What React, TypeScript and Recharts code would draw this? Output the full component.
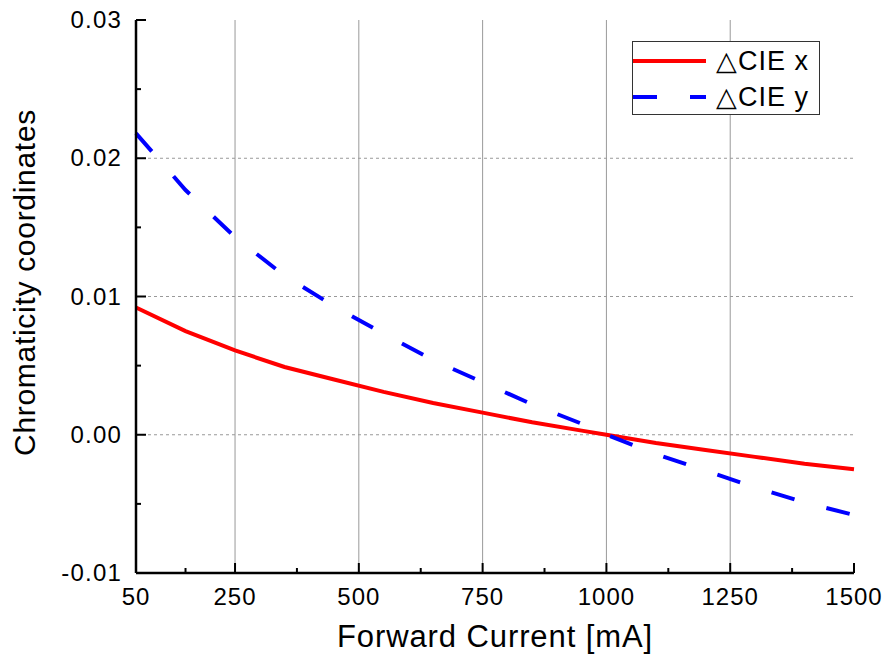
import React from "react";
import { CartesianGrid, Legend, Line, LineChart, XAxis, YAxis } from "recharts";

// forward current sweep (mA) and the chromaticity shift relative to 1000 mA
const currents = [50, 150, 250, 350, 450, 550, 650, 750, 850, 950, 1000, 1100, 1200, 1300, 1400, 1500];
const deltaCieX = [0.0092, 0.0075, 0.0061, 0.0049, 0.0040, 0.0031, 0.0023, 0.0016, 0.0009, 0.0003, 0, -0.0006, -0.0011, -0.0016, -0.0021, -0.0025];
const deltaCieY = [0.0218, 0.0177, 0.0143, 0.0115, 0.0093, 0.0073, 0.0054, 0.0038, 0.0022, 0.0008, 0, -0.0014, -0.0026, -0.0038, -0.0049, -0.0058];

const xDomain = [50, 1500];
const yDomain = [-0.01, 0.03];
const xMajor = [50, 250, 500, 750, 1000, 1250, 1500];
const xMinor = [150, 375, 625, 875, 1125, 1375];
const yMajor = [-0.01, 0, 0.01, 0.02, 0.03];
const yMinor = [-0.005, 0.005, 0.015, 0.025];
const xGrid = [250, 500, 750, 1000, 1250];
const yGrid = [0, 0.01, 0.02];

const FONT = '"Liberation Sans", Arial, Helvetica, sans-serif';

const data = currents.map((c, i) => ({ current: c, x: deltaCieX[i], y: deltaCieY[i] }));

const isMajor = (list: number[], v: number) => list.some((m) => Math.abs(m - v) < 1e-9);

function XTick(props: any) {
  const { x, y, payload } = props;
  const major = isMajor(xMajor, payload.value);
  return (
    <g>
      <line x1={x} x2={x} y1={y} y2={y - (major ? 10 : 5)} stroke="#000" strokeWidth={2} />
      {major && (
        <text x={x} y={y + 32} textAnchor="middle" fontFamily={FONT} fontSize={24} letterSpacing={1} fill="#000">
          {payload.value}
        </text>
      )}
    </g>
  );
}

function YTick(props: any) {
  const { x, y, payload } = props;
  const major = isMajor(yMajor, payload.value);
  return (
    <g>
      <line x1={x} x2={x + (major ? 10 : 5)} y1={y} y2={y} stroke="#000" strokeWidth={2} />
      {major && (
        <text x={x - 14} y={y + 8} textAnchor="end" fontFamily={FONT} fontSize={24} letterSpacing={1.2} fill="#000">
          {payload.value.toFixed(2)}
        </text>
      )}
    </g>
  );
}

function LegendBox() {
  const rows = [
    { label: "\u25B3CIE x", color: "#ff0000", dash: undefined },
    { label: "\u25B3CIE y", color: "#0000ff", dash: "24 33" },
  ];
  return (
    <div
      style={{
        width: 188,
        height: 74,
        border: "1px solid #333",
        background: "#fff",
        boxSizing: "border-box",
        paddingTop: 1,
      }}
    >
      {rows.map((r) => (
        <div key={r.label} style={{ display: "flex", alignItems: "center", height: 36 }}>
          <svg width={80} height={10}>
            <line x1={0} x2={73} y1={5} y2={5} stroke={r.color} strokeWidth={4} strokeDasharray={r.dash} />
          </svg>
          <span style={{ fontFamily: FONT, fontSize: 27, letterSpacing: 1, color: "#000", lineHeight: "30px", marginLeft: 3 }}>
            {r.label}
          </span>
        </div>
      ))}
    </div>
  );
}

// grid positions from the plot offset and the axis domains
const gridX = ({ offset }: any) =>
  xGrid.map((v) => offset.left + ((v - xDomain[0]) / (xDomain[1] - xDomain[0])) * offset.width);
const gridY = ({ offset }: any) =>
  yGrid.map((v) => offset.top + ((yDomain[1] - v) / (yDomain[1] - yDomain[0])) * offset.height);

export default function App() {
  return (
    <div style={{ position: "absolute", left: 0, top: 0, background: "#fff" }}>
      <LineChart width={887} height={658} data={data} margin={{ top: 20, right: 33, bottom: 0, left: 36 }}>
        <CartesianGrid horizontal={false} stroke="#999" strokeWidth={1} verticalCoordinatesGenerator={gridX} />
        <CartesianGrid
          vertical={false}
          stroke="#999"
          strokeWidth={1}
          strokeDasharray="3 3"
          horizontalCoordinatesGenerator={gridY}
        />
        <XAxis
          dataKey="current"
          type="number"
          domain={xDomain}
          ticks={[...xMajor, ...xMinor].sort((a, b) => a - b)}
          interval={0}
          height={85}
          tickSize={0}
          tickMargin={0}
          tickLine={false}
          axisLine={{ stroke: "#000", strokeWidth: 2.5 }}
          tick={<XTick />}
          label={{
            value: "Forward Current [mA]",
            position: "insideBottom",
            offset: 11,
            style: { fontFamily: FONT, fontSize: 31, fill: "#000", letterSpacing: 0.9 },
          }}
        />
        <YAxis
          type="number"
          domain={yDomain}
          ticks={[...yMajor, ...yMinor].sort((a, b) => a - b)}
          interval={0}
          width={100}
          tickSize={0}
          tickMargin={0}
          tickLine={false}
          axisLine={{ stroke: "#000", strokeWidth: 2.5 }}
          tick={<YTick />}
          label={{
            value: "Chromaticity coordinates",
            angle: -90,
            position: "insideLeft",
            offset: -12,
            dy: -14,
            style: { textAnchor: "middle", fontFamily: FONT, fontSize: 30, fill: "#000", letterSpacing: 0.7 },
          }}
        />
        {/* right and top frame */}
        <XAxis xAxisId="top" orientation="top" type="number" domain={xDomain} height={0} tick={false} tickLine={false} axisLine={{ stroke: "#000", strokeWidth: 2 }} />
        <YAxis yAxisId="right" orientation="right" type="number" domain={yDomain} width={0} tick={false} tickLine={false} axisLine={{ stroke: "#000", strokeWidth: 2 }} />
        <Legend
          layout="vertical"
          align="center"
          verticalAlign="middle"
          wrapperStyle={{ left: 632, top: 41, width: 190 }}
          content={() => <LegendBox />}
        />
        <Line dataKey="x" name={"\u25B3CIE x"} stroke="#ff0000" strokeWidth={4} dot={false} type="linear" isAnimationActive={false} />
        <Line dataKey="y" name={"\u25B3CIE y"} stroke="#0000ff" strokeWidth={4} strokeDasharray="24 33" dot={false} type="linear" isAnimationActive={false} />
      </LineChart>
    </div>
  );
}
